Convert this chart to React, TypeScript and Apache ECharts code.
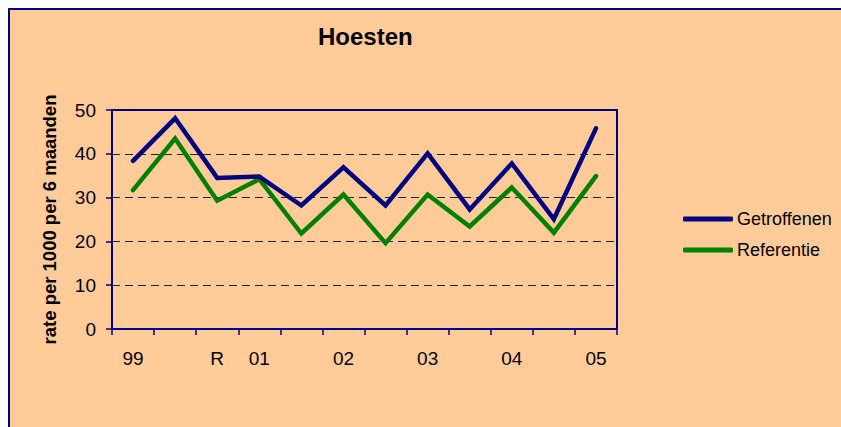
import React, { useEffect, useRef } from "react";
import * as echarts from "echarts";

const categories = ["99", "", "R", "01", "", "02", "", "03", "", "04", "", "05"];
const getroffenen = [38.4, 48.1, 34.5, 34.8, 28.2, 36.9, 28.2, 40.1, 27.3, 37.8, 25.1, 45.8];
const referentie = [31.7, 43.5, 29.3, 34.2, 21.8, 30.7, 19.6, 30.7, 23.4, 32.3, 22.0, 34.9];
const seriesNames = ["Getroffenen", "Referentie"];

const FONT = "Arial, 'Liberation Sans', sans-serif";

export default function App() {
  const ref = useRef<HTMLDivElement>(null);
  useEffect(() => {
    if (!ref.current) return;
    const chart = echarts.init(ref.current, null, { renderer: "svg" });
    chart.setOption({
      animation: false,
      backgroundColor: "#FFCC99",
      textStyle: { fontFamily: FONT },
      title: {
        text: "Hoesten",
        left: 308,
        top: 14,
        padding: 0,
        textStyle: { fontSize: 24, fontWeight: "bold", color: "#000", fontFamily: FONT, lineHeight: 24 },
      },
      legend: {
        orient: "vertical",
        left: 673,
        top: 200,
        padding: 0,
        itemWidth: 50,
        itemHeight: 5,
        itemGap: 13,
        icon: "roundRect",
        textStyle: { fontSize: 18, color: "#000", fontFamily: FONT, lineHeight: 18, padding: [0, 0, 0, -1] },
        data: seriesNames,
      },
      grid: {
        left: 102,
        top: 100,
        right: 224,
        bottom: 98,
        show: true,
        borderColor: "#000080",
        borderWidth: 2,
        backgroundColor: "transparent",
        containLabel: false,
      },
      xAxis: {
        type: "category",
        data: categories,
        boundaryGap: true,
        axisLine: { lineStyle: { color: "#000080", width: 2 } },
        axisTick: { show: true, alignWithLabel: false, length: 6, interval: 0, lineStyle: { color: "#000080", width: 1.5 } },
        axisLabel: { interval: 0, fontSize: 19, color: "#000", margin: 20, fontFamily: FONT },
        splitLine: { show: false },
      },
      yAxis: {
        type: "value",
        min: 0,
        max: 50,
        interval: 10,
        name: "rate per 1000 per 6 maanden",
        nameLocation: "middle",
        nameGap: 53,
        nameTextStyle: { fontSize: 18.5, fontWeight: "bold", color: "#000", fontFamily: FONT },
        axisLine: { show: true, lineStyle: { color: "#000080", width: 2 } },
        axisTick: { show: true, length: 6, lineStyle: { color: "#000080", width: 1.5 } },
        axisLabel: { fontSize: 19, color: "#000", margin: 16, fontFamily: FONT },
        splitLine: {
          show: true,
          showMinLine: false,
          showMaxLine: false,
          lineStyle: { color: "#222", width: 1, type: [8, 5] },
        },
      },
      series: [
        {
          name: seriesNames[0],
          type: "line",
          data: getroffenen,
          symbol: "none",
          color: "#000080",
          lineStyle: { color: "#000080", width: 4.5, cap: "round", join: "miter" },
          z: 3,
        },
        {
          name: seriesNames[1],
          type: "line",
          data: referentie,
          symbol: "none",
          color: "#008000",
          lineStyle: { color: "#008000", width: 4.5, cap: "round", join: "miter" },
          z: 2,
        },
      ],
    });
    return () => chart.dispose();
  }, []);
  return (
    <div
      style={{
        position: "fixed",
        left: 8,
        top: 8,
        width: 833,
        height: 419,
        boxSizing: "border-box",
        borderLeft: "2px solid #000080",
        borderTop: "2px solid #000080",
        background: "#FFCC99",
        overflow: "hidden",
      }}
    >
      <div ref={ref} style={{ width: 831, height: 417 }} />
    </div>
  );
}
